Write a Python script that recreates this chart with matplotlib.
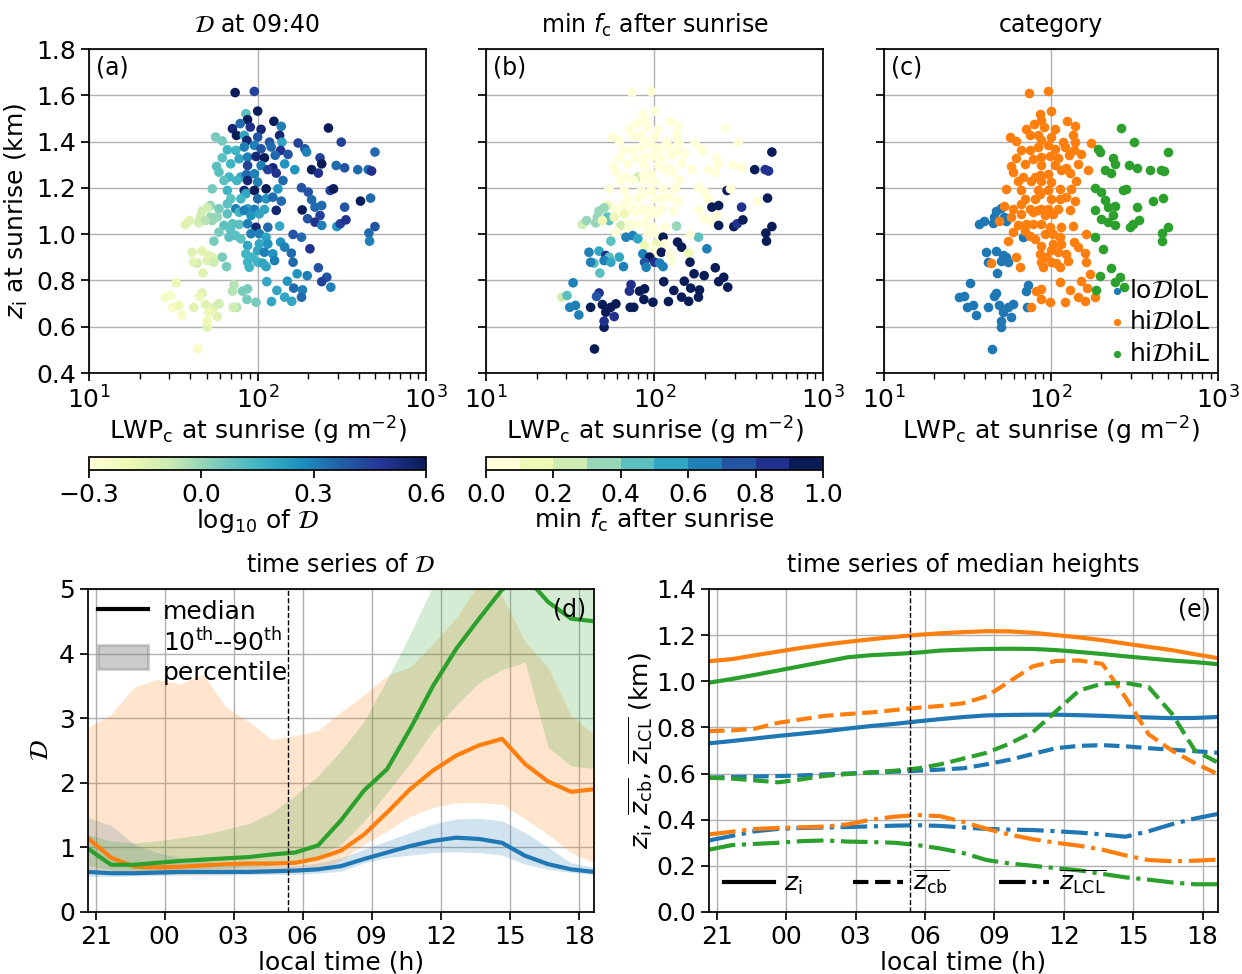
import matplotlib
matplotlib.use("Agg")
import matplotlib.pyplot as plt
import numpy as np
from matplotlib.lines import Line2D
from matplotlib.patches import Patch

plt.rcParams['font.size'] = 18
plt.rcParams['axes.linewidth'] = 1.25
plt.rcParams['axes.titlepad'] = 12
for a in ('xtick', 'ytick'):
    plt.rcParams[a + '.major.size'] = 6
    plt.rcParams[a + '.major.width'] = 1.25
    plt.rcParams[a + '.minor.size'] = 4
    plt.rcParams[a + '.minor.width'] = 1.0

# scatter sample: LWP_c at sunrise (log10 g m-2), z_i at sunrise (km)
log_lwp = [
    1.867, 1.981, 2.001, 1.931, 1.941, 1.897, 2.097, 2.141, 1.851, 1.957,
    2.021, 1.875, 1.751, 1.791, 1.921, 1.937, 2.001, 2.071, 2.131, 2.145,
    2.241, 2.421, 2.497, 2.281, 2.291, 2.371, 2.697, 2.321, 2.381, 2.361,
    2.467, 2.517, 2.595, 2.657, 2.677, 1.821, 1.871, 1.921, 1.981, 2.021,
    2.081, 2.137, 1.791, 1.891, 1.941, 1.991, 2.041, 2.105, 2.181, 1.757,
    1.841, 1.941, 2.021, 2.091, 2.161, 2.221, 1.771, 1.831, 1.901, 1.935,
    1.981, 2.061, 2.111, 1.801, 1.877, 1.941, 2.001, 2.151, 1.731, 1.821,
    1.921, 1.931, 1.981, 2.051, 2.121, 1.841, 1.901, 2.001, 2.051, 2.091,
    2.141, 1.821, 1.871, 1.941, 1.981, 2.041, 2.111, 1.721, 1.771, 1.821,
    1.891, 1.921, 1.961, 2.011, 2.261, 2.301, 2.431, 2.451, 2.321, 2.341,
    2.381, 2.265, 2.517, 2.611, 2.671, 2.297, 2.341, 2.371, 2.381, 2.471,
    2.491, 2.525, 2.697, 2.661, 2.665, 2.261, 2.311, 1.671, 1.701, 1.661,
    1.721, 1.571, 1.597, 1.651, 1.731, 1.691, 1.761, 1.801, 1.851, 1.891,
    1.941, 1.991, 2.061, 2.131, 1.771, 1.841, 1.871, 1.901, 1.961, 2.011,
    2.051, 2.211, 1.741, 1.831, 1.941, 2.011, 2.061, 2.137, 2.161, 2.001,
    2.041, 1.931, 1.971, 2.091, 2.201, 1.791, 1.941, 2.001, 2.031, 2.101,
    2.211, 1.816, 1.641, 1.951, 2.051, 1.611, 1.671, 1.711, 1.731, 1.701,
    1.741, 1.621, 1.676, 2.235, 2.295, 2.361, 2.411, 2.381, 2.435, 1.517,
    1.861, 1.851, 1.671, 2.055, 2.177, 1.941, 1.911, 2.115, 2.215, 2.267,
    1.937, 1.991, 2.083, 2.161, 2.203, 2.261, 1.877, 1.451, 1.481, 1.497,
    1.531, 1.656, 1.551, 1.621, 1.691, 1.741, 1.771, 1.711, 1.761, 1.856,
    1.701, 1.701, 1.644]

zi_sunrise = [
    1.612, 1.617, 1.532, 1.521, 1.495, 1.478, 1.488, 1.466, 1.456, 1.463,
    1.453, 1.427, 1.420, 1.403, 1.427, 1.405, 1.420, 1.398, 1.427, 1.398,
    1.394, 1.459, 1.398, 1.369, 1.355, 1.330, 1.355, 1.279, 1.304, 1.264,
    1.297, 1.287, 1.279, 1.279, 1.273, 1.365, 1.362, 1.377, 1.384, 1.369,
    1.377, 1.362, 1.330, 1.326, 1.333, 1.336, 1.330, 1.341, 1.345, 1.293,
    1.304, 1.297, 1.297, 1.287, 1.304, 1.279, 1.268, 1.247, 1.247, 1.258,
    1.261, 1.279, 1.264, 1.232, 1.232, 1.232, 1.225, 1.232, 1.196, 1.189,
    1.189, 1.175, 1.189, 1.196, 1.196, 1.153, 1.153, 1.153, 1.153, 1.160,
    1.143, 1.131, 1.110, 1.110, 1.107, 1.107, 1.103, 1.124, 1.110, 1.088,
    1.095, 1.103, 1.081, 1.088, 1.201, 1.182, 1.189, 1.196, 1.149, 1.117,
    1.124, 1.105, 1.117, 1.143, 1.156, 1.067, 1.052, 1.081, 1.038, 1.033,
    1.045, 1.062, 1.033, 1.005, 0.970, 0.987, 0.937, 1.100, 1.114, 1.074,
    1.074, 1.042, 1.059, 1.049, 1.059, 1.059, 1.074, 1.038, 1.045, 1.042,
    1.045, 1.030, 1.030, 1.035, 1.009, 1.016, 0.994, 0.980, 1.002, 1.002,
    0.987, 0.999, 0.970, 0.987, 0.951, 0.958, 0.958, 0.966, 0.944, 0.930,
    0.922, 0.915, 0.901, 0.915, 0.918, 0.901, 0.879, 0.879, 0.875, 0.886,
    0.879, 0.860, 0.875, 0.857, 0.860, 0.922, 0.927, 0.908, 0.901, 0.886,
    0.879, 0.879, 0.832, 0.829, 0.821, 0.855, 0.814, 0.795, 0.771, 0.790,
    0.782, 0.754, 0.746, 0.795, 0.797, 0.764, 0.754, 0.757, 0.767, 0.759,
    0.718, 0.706, 0.709, 0.728, 0.710, 0.728, 0.684, 0.728, 0.735, 0.684,
    0.692, 0.731, 0.651, 0.684, 0.696, 0.684, 0.699, 0.663, 0.644, 0.684,
    0.598, 0.624, 0.504]

# 0 = loDloL, 1 = hiDloL, 2 = hiDhiL
category = (
    [1] * 21 + [2] * 14 + [1] * 59 + [2] * 23 + [0] * 8 + [1] * 18 + [0]
    + [1] * 21 + [0] * 8 + [1] + [2] * 5 + [0] * 4 + [1] * 6 + [2]
    + [1] * 7 + [0] * 16)

log_D_0940 = [
    0.60, 0.45, 0.60, 0.10, 0.60, 0.35, 0.60, 0.30, 0.55, 0.50,
    0.55, 0.60, 0.05, 0.05, 0.20, 0.55, 0.40, 0.40, 0.55, 0.20,
    0.45, 0.60, 0.45, 0.40, 0.30, 0.45, 0.35, 0.60, 0.60, 0.50,
    0.35, 0.40, 0.35, 0.35, 0.50, 0.15, 0.15, 0.30, 0.30, 0.40,
    0.35, 0.50, 0.10, 0.20, 0.30, 0.55, 0.60, 0.35, 0.40, 0.10,
    0.15, 0.45, 0.30, 0.55, 0.25, 0.25, 0.10, 0.15, 0.20, 0.35,
    0.30, 0.45, 0.50, 0.10, 0.15, 0.55, 0.30, 0.35, 0.05, 0.15,
    0.55, 0.20, 0.60, 0.60, 0.25, 0.10, 0.15, 0.35, 0.25, 0.35,
    0.35, 0.10, 0.30, 0.20, 0.30, 0.20, 0.55, 0.00, 0.05, 0.10,
    0.15, 0.30, 0.25, 0.20, 0.40, 0.40, 0.45, 0.60, 0.35, 0.35,
    0.35, 0.60, 0.40, 0.60, 0.35, 0.40, 0.50, 0.45, 0.30, 0.25,
    0.45, 0.50, 0.40, 0.35, 0.30, 0.35, 0.50, -0.10, -0.10, -0.10,
    0.00, -0.15, -0.15, -0.10, 0.00, -0.05, 0.00, 0.10, 0.10, 0.10,
    0.30, 0.55, 0.35, 0.20, 0.05, 0.10, 0.10, 0.10, 0.30, 0.30,
    0.20, 0.40, 0.05, 0.10, 0.20, 0.20, 0.25, 0.25, 0.30, 0.20,
    0.30, 0.15, 0.15, 0.25, 0.35, 0.05, 0.15, 0.15, 0.20, 0.30,
    0.35, 0.05, -0.10, 0.15, 0.20, -0.15, -0.15, -0.15, -0.15, -0.15,
    -0.10, -0.15, -0.15, 0.25, 0.30, 0.40, 0.40, 0.45, 0.30, -0.20,
    -0.05, -0.05, -0.15, 0.20, 0.25, 0.05, 0.05, 0.20, 0.35, 0.30,
    0.05, 0.05, 0.20, 0.20, 0.20, 0.35, -0.05, -0.25, -0.25, -0.25,
    -0.20, -0.20, -0.25, -0.15, -0.15, -0.15, -0.10, -0.20, -0.15, -0.10,
    -0.15, -0.20, -0.25]

min_fc = [
    0.02, 0.02, 0.02, 0.03, 0.03, 0.03, 0.03, 0.04, 0.03, 0.02,
    0.03, 0.04, 0.05, 0.04, 0.03, 0.03, 0.04, 0.03, 0.05, 0.04,
    0.04, 0.06, 0.05, 0.05, 0.04, 0.04, 0.95, 0.05, 0.04, 0.05,
    0.05, 0.05, 0.95, 0.85, 0.85, 0.03, 0.03, 0.04, 0.03, 0.04,
    0.03, 0.04, 0.04, 0.03, 0.04, 0.03, 0.04, 0.03, 0.05, 0.04,
    0.05, 0.04, 0.05, 0.04, 0.05, 0.05, 0.05, 0.05, 0.25, 0.05,
    0.04, 0.05, 0.04, 0.05, 0.04, 0.05, 0.04, 0.05, 0.04, 0.05,
    0.04, 0.05, 0.04, 0.05, 0.04, 0.05, 0.04, 0.05, 0.04, 0.05,
    0.06, 0.06, 0.05, 0.05, 0.04, 0.05, 0.05, 0.15, 0.08, 0.10,
    0.06, 0.05, 0.06, 0.05, 0.05, 0.06, 0.90, 0.05, 0.06, 0.90,
    0.95, 0.06, 0.85, 0.05, 0.95, 0.06, 0.05, 0.06, 0.95, 0.90,
    0.80, 0.90, 0.95, 0.95, 0.95, 0.45, 0.60, 0.35, 0.30, 0.30,
    0.45, 0.20, 0.35, 0.35, 0.45, 0.15, 0.10, 0.25, 0.05, 0.06,
    0.05, 0.06, 0.05, 0.30, 0.06, 0.06, 0.60, 0.55, 0.05, 0.06,
    0.95, 0.05, 0.45, 0.65, 0.10, 0.10, 0.06, 0.95, 0.95, 0.08,
    0.95, 0.60, 0.90, 0.08, 0.10, 0.55, 0.70, 0.85, 0.65, 0.08,
    0.90, 0.60, 0.45, 0.60, 0.65, 0.65, 0.50, 0.85, 0.45, 0.65,
    0.50, 0.60, 0.45, 0.95, 0.95, 0.95, 0.95, 0.90, 0.95, 0.60,
    0.85, 0.80, 0.80, 0.95, 0.95, 0.90, 0.95, 0.95, 0.95, 0.95,
    0.95, 0.95, 0.95, 0.95, 0.95, 0.95, 0.95, 0.25, 0.40, 0.60,
    0.65, 0.75, 0.65, 0.90, 0.90, 0.90, 0.90, 0.90, 0.85, 0.90,
    0.90, 0.80, 0.95]

cat_names = [r'lo$\mathcal{D}$loL', r'hi$\mathcal{D}$loL', r'hi$\mathcal{D}$hiL']
cat_colors = ['tab:blue', 'tab:orange', 'tab:green']

# hourly time series, 20:40 to 18:40 local time (hours since midnight of day 0)
local_time = np.arange(23) + 20 + 40 / 60
sunrise = 29.35

D_median = {
    0: [0.62, 0.60, 0.60, 0.61, 0.62, 0.62, 0.62, 0.62, 0.63, 0.64, 0.66, 0.71,
        0.82, 0.92, 1.02, 1.10, 1.15, 1.13, 1.07, 0.87, 0.74, 0.66, 0.62],
    1: [1.14, 0.84, 0.70, 0.69, 0.70, 0.72, 0.74, 0.75, 0.75, 0.76, 0.83, 0.95,
        1.20, 1.54, 1.90, 2.19, 2.42, 2.58, 2.68, 2.29, 2.02, 1.86, 1.90],
    2: [0.98, 0.73, 0.73, 0.76, 0.79, 0.81, 0.83, 0.85, 0.89, 0.92, 1.03, 1.42,
        1.88, 2.21, 2.83, 3.50, 4.07, 4.54, 4.99, 5.20, 4.80, 4.54, 4.50],
}
D_p10 = {
    0: [0.55, 0.55, 0.56, 0.56, 0.57, 0.57, 0.57, 0.58, 0.58, 0.58, 0.60, 0.63,
        0.76, 0.84, 0.88, 0.92, 0.93, 0.92, 0.88, 0.74, 0.66, 0.61, 0.58],
    1: [0.60, 0.58, 0.58, 0.58, 0.58, 0.58, 0.59, 0.60, 0.60, 0.62, 0.66, 0.80,
        1.05, 1.25, 1.48, 1.62, 1.69, 1.69, 1.67, 1.44, 1.20, 0.92, 0.76],
    2: [0.72, 0.65, 0.64, 0.65, 0.66, 0.67, 0.68, 0.70, 0.72, 0.76, 0.85, 1.05,
        1.40, 1.85, 2.30, 2.80, 3.20, 3.55, 3.75, 3.87, 2.55, 2.26, 2.22],
}
D_p90 = {
    0: [1.46, 1.34, 1.05, 0.92, 0.84, 0.79, 0.74, 0.72, 0.72, 0.72, 0.76, 0.84,
        0.97, 1.10, 1.23, 1.36, 1.44, 1.45, 1.41, 1.23, 1.00, 0.76, 0.69],
    1: [2.86, 3.06, 3.48, 3.60, 3.53, 3.68, 3.17, 2.94, 2.67, 2.73, 2.81, 3.10,
        3.36, 3.66, 3.79, 4.15, 4.55, 5.10, 4.90, 4.18, 3.79, 3.04, 2.75],
    2: [1.20, 1.10, 1.07, 1.10, 1.15, 1.20, 1.28, 1.37, 1.54, 1.80, 2.11, 2.50,
        2.95, 3.60, 4.30, 5.05, 5.60, 6.00, 6.00, 6.00, 6.00, 6.00, 6.00],
}

# median heights (km)
zi_median = {
    0: [0.731, 0.741, 0.752, 0.763, 0.773, 0.783, 0.795, 0.806, 0.815, 0.826,
        0.836, 0.845, 0.852, 0.854, 0.855, 0.855, 0.853, 0.850, 0.846, 0.843,
        0.840, 0.841, 0.845],
    1: [1.087, 1.096, 1.113, 1.129, 1.145, 1.159, 1.171, 1.182, 1.192, 1.201,
        1.208, 1.213, 1.217, 1.216, 1.210, 1.200, 1.190, 1.178, 1.163, 1.149,
        1.135, 1.117, 1.100],
    2: [0.994, 1.010, 1.028, 1.047, 1.066, 1.085, 1.104, 1.113, 1.118, 1.124,
        1.133, 1.137, 1.140, 1.141, 1.140, 1.135, 1.127, 1.118, 1.108, 1.099,
        1.090, 1.083, 1.074],
}
zcb_median = {
    0: [0.582, 0.585, 0.587, 0.589, 0.592, 0.596, 0.600, 0.604, 0.608, 0.612,
        0.617, 0.623, 0.640, 0.660, 0.685, 0.710, 0.720, 0.723, 0.718, 0.710,
        0.703, 0.697, 0.690],
    1: [0.784, 0.787, 0.795, 0.820, 0.835, 0.850, 0.858, 0.865, 0.875, 0.885,
        0.893, 0.905, 0.935, 1.000, 1.065, 1.088, 1.090, 1.075, 0.930, 0.770,
        0.700, 0.645, 0.597],
    2: [0.582, 0.578, 0.570, 0.562, 0.575, 0.590, 0.598, 0.605, 0.612, 0.622,
        0.640, 0.665, 0.690, 0.730, 0.780, 0.870, 0.960, 0.990, 0.993, 0.975,
        0.860, 0.700, 0.647],
}
zlcl_median = {
    0: [0.310, 0.330, 0.350, 0.360, 0.364, 0.366, 0.368, 0.371, 0.374, 0.376,
        0.373, 0.366, 0.360, 0.357, 0.355, 0.350, 0.344, 0.336, 0.326, 0.350,
        0.380, 0.405, 0.425],
    1: [0.336, 0.348, 0.360, 0.364, 0.367, 0.370, 0.380, 0.400, 0.413, 0.420,
        0.415, 0.390, 0.360, 0.335, 0.315, 0.300, 0.287, 0.270, 0.245, 0.225,
        0.220, 0.222, 0.227],
    2: [0.270, 0.290, 0.295, 0.300, 0.307, 0.310, 0.305, 0.303, 0.300, 0.290,
        0.275, 0.255, 0.225, 0.210, 0.200, 0.190, 0.180, 0.165, 0.150, 0.140,
        0.128, 0.120, 0.120],
}

lwp = 10 ** np.array(log_lwp)
zi0 = np.array(zi_sunrise)
cat = np.array(category)

fig = plt.figure(figsize=(12.42, 9.74), dpi=100)
ax_a = fig.add_axes([0.0717, 0.617, 0.2713, 0.3326])
ax_b = fig.add_axes([0.3913, 0.617, 0.2713, 0.3326])
ax_c = fig.add_axes([0.7118, 0.617, 0.2690, 0.3326])
cax_a = fig.add_axes([0.0717, 0.5175, 0.2713, 0.0133])
cax_b = fig.add_axes([0.3913, 0.5175, 0.2713, 0.0133])
ax_d = fig.add_axes([0.0709, 0.0637, 0.4074, 0.3316])
ax_e = fig.add_axes([0.5709, 0.0637, 0.4098, 0.3316])

dot = 48
sc_a = ax_a.scatter(lwp, zi0, c=log_D_0940, cmap='YlGnBu', vmin=-0.3, vmax=0.6,
                    s=dot, linewidths=0)
sc_b = ax_b.scatter(lwp, zi0, c=min_fc, cmap=plt.get_cmap('YlGnBu', 10),
                    vmin=0, vmax=1, s=dot, linewidths=0)
for k in range(3):
    m = cat == k
    ax_c.scatter(lwp[m], zi0[m], color=cat_colors[k], s=dot, linewidths=0,
                 label=cat_names[k])

titles = [r'$\mathcal{D}$ at 09:40', r'min $f_\mathrm{c}$ after sunrise', 'category']
for ax, lab, tt in zip([ax_a, ax_b, ax_c], ['(a)', '(b)', '(c)'], titles):
    ax.set_xscale('log')
    ax.set_xlim(10, 1000)
    ax.set_ylim(0.4, 1.8)
    ax.set_yticks(np.arange(0.4, 1.81, 0.2))
    ax.grid(True, color='#b0b0b0', lw=1)
    ax.set_axisbelow(True)
    ax.set_xlabel(r'LWP$_\mathrm{c}$ at sunrise (g m$^{-2}$)', labelpad=1)
    ax.set_title(tt, fontsize=17)
    ax.text(0.02, 0.98, lab, transform=ax.transAxes, ha='left', va='top',
            fontsize=17)
ax_a.set_ylabel(r'$z_\mathrm{i}$ at sunrise (km)')
ax_b.tick_params(axis='y', labelleft=False)
ax_c.tick_params(axis='y', labelleft=False)

ax_c.legend(loc='lower right', frameon=False, handletextpad=0.0,
            labelspacing=0.3, borderaxespad=0.1, markerscale=0.75,
            handlelength=1.0, borderpad=0.2)

cb_a = fig.colorbar(sc_a, cax=cax_a, orientation='horizontal')
cb_a.set_ticks([-0.3, 0.0, 0.3, 0.6])
cb_a.set_label(r'log$_{10}$ of $\mathcal{D}$', labelpad=0)
cb_b = fig.colorbar(sc_b, cax=cax_b, orientation='horizontal')
cb_b.set_ticks(np.arange(0, 1.01, 0.2))
cb_b.set_label(r'min $f_\mathrm{c}$ after sunrise', labelpad=0)

# time series of D
for k in range(3):
    ax_d.fill_between(local_time, D_p10[k], D_p90[k], color=cat_colors[k],
                      alpha=0.2, lw=0)
for k in range(3):
    ax_d.plot(local_time, D_median[k], color=cat_colors[k], lw=3)
ax_d.set_ylim(0, 5)
ax_d.set_ylabel(r'$\mathcal{D}$')
ax_d.set_title(r'time series of $\mathcal{D}$', fontsize=17)
ax_d.text(0.985, 0.975, '(d)', transform=ax_d.transAxes, ha='right', va='top',
          fontsize=17)
handles = [Line2D([], [], color='k', lw=3),
           Patch(facecolor='0.5', edgecolor='0.5', alpha=0.4, lw=2)]
ax_d.legend(handles, ['median', '10$^\\mathrm{th}$--90$^\\mathrm{th}$\npercentile'],
            loc='upper left', frameon=False, borderaxespad=0.0,
            handlelength=2.0, handleheight=1.1, labelspacing=0.15,
            handletextpad=0.6)

# time series of median heights
for k in range(3):
    ax_e.plot(local_time, zi_median[k], color=cat_colors[k], lw=3, ls='-')
    ax_e.plot(local_time, zcb_median[k], color=cat_colors[k], lw=3, ls='--')
    ax_e.plot(local_time, zlcl_median[k], color=cat_colors[k], lw=3, ls='-.')
ax_e.set_ylim(0, 1.4)
ax_e.set_yticks(np.arange(0, 1.41, 0.2))
ax_e.set_ylabel(r'$z_\mathrm{i}$, $\overline{z_\mathrm{cb}}$, $\overline{z_\mathrm{LCL}}$ (km)',
                labelpad=0)
ax_e.set_title('time series of median heights', fontsize=17)
ax_e.text(0.985, 0.975, '(e)', transform=ax_e.transAxes, ha='right', va='top',
          fontsize=17)
handles = [Line2D([], [], color='k', lw=3, ls=s) for s in ['-', '--', '-.']]
ax_e.legend(handles, [r'$z_\mathrm{i}$', r'$\overline{z_\mathrm{cb}}$',
                      r'$\overline{z_\mathrm{LCL}}$'],
            loc='lower left', ncol=3, frameon=False, borderaxespad=0.2,
            handlelength=2.0, columnspacing=2.0, handletextpad=0.4)

tick_hours = np.arange(21, 43, 3)
for ax in (ax_d, ax_e):
    ax.axvline(sunrise, color='k', ls='--', lw=1)
    ax.set_xlim(local_time[0], local_time[-1])
    ax.set_xticks(tick_hours)
    ax.set_xticklabels(['%02d' % (h % 24) for h in tick_hours])
    ax.set_xlabel('local time (h)', labelpad=1)
    ax.grid(True, color='#b0b0b0', lw=1)
    ax.set_axisbelow(True)

fig.savefig('out.png', dpi=100)
